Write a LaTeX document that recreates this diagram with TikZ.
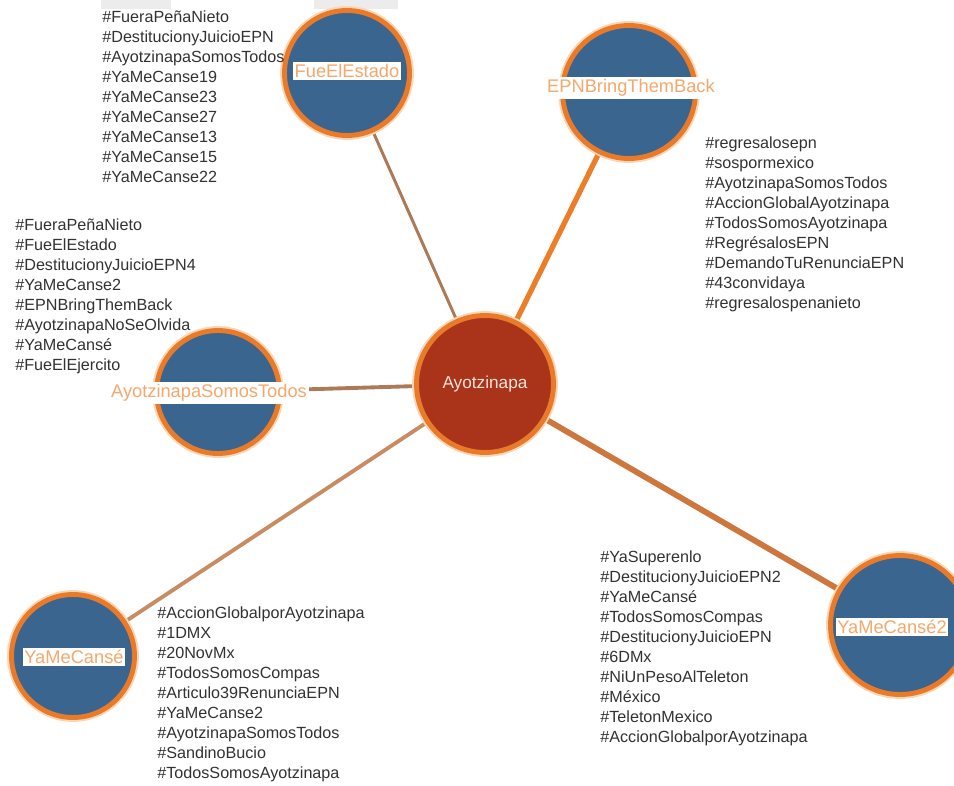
\documentclass[tikz,border=0pt]{standalone}
\usepackage{fontspec}
\setmainfont{Liberation Sans}
\usetikzlibrary{backgrounds}
\definecolor{ballblue}{RGB}{58,101,143}
\definecolor{ringorange}{RGB}{233,122,42}
\definecolor{ringglow}{RGB}{250,214,180}
\definecolor{hubred}{RGB}{170,52,26}
\definecolor{hubtext}{RGB}{250,228,220}
\definecolor{lblorange}{RGB}{244,168,108}
\definecolor{tagtext}{RGB}{50,50,50}
\definecolor{linkbrown}{RGB}{172,122,88}
\definecolor{linktan}{RGB}{200,140,98}
\definecolor{linkorange}{RGB}{236,126,42}
\definecolor{linkrust}{RGB}{205,118,62}
\definecolor{topgray}{RGB}{236,236,236}
\tikzset{
  ball/.style={circle, fill=ballblue, draw=ringorange, line width=2.8pt,
    preaction={draw=ringglow, line width=5pt}, inner sep=0pt},
  hub/.style={ball, fill=hubred, text=hubtext, font=\fontsize{9.8}{11}\selectfont},
  balllabel/.style={fill=white, text=lblorange, inner xsep=1pt, inner ysep=1.5pt,
    font=\fontsize{10.4}{12}\selectfont},
  tags/.style={anchor=north west, align=left, inner sep=0pt, text=tagtext,
    font=\fontsize{9.2}{11.4}\selectfont},
  link/.style={line width=#1, line cap=butt}}

\begin{document}
\begin{tikzpicture}[x=0.02cm, y=-0.02cm]
  \useasboundingbox (0,0) rectangle (954,785);
  \fill[topgray] (101,0) rectangle (171,9);
  \fill[topgray] (314,0) rectangle (398,9);

  % hub and hashtag balls
  \node[hub, minimum size=2.74cm] (hub) at (485,384) {Ayotzinapa};
  \node[ball, minimum size=2.5cm] (fue) at (347,73) {};
  \node[ball, minimum size=2.66cm] (epn) at (629,92) {};
  \node[ball, minimum size=2.46cm] (ast) at (218,392) {};
  \node[ball, minimum size=2.46cm] (yamc) at (73,656) {};
  \node[ball, minimum size=2.78cm] (yamc2) at (900,625) {};

  \node[balllabel] (fuelbl) at (347,71) {FueElEstado};
  \node[balllabel] (epnlbl) at (631,88) {EPNBringThemBack};
  \node[balllabel] (astlbl) at (209,393) {AyotzinapaSomosTodos};
  \node[balllabel] (yamclbl) at (74,657) {YaMeCansé};
  \node[balllabel] (yamc2lbl) at (892,627) {YaMeCansé2};

  \begin{scope}[on background layer]
    \draw[linkbrown, link=1.7pt] (hub) -- (fue);
    \draw[linkorange, link=3pt] (hub) -- (epn);
    \draw[linkbrown, link=2.2pt] (hub) -- (ast);
    \draw[linktan, link=2.2pt] (hub) -- (yamc);
    \draw[linkrust, link=3.3pt] (hub) -- (yamc2);
  \end{scope}

  \node[tags] (fuetags) at (102,10) {\#FueraPeñaNieto\\ \#DestitucionyJuicioEPN\\
    \#AyotzinapaSomosTodos\\ \#YaMeCanse19\\ \#YaMeCanse23\\ \#YaMeCanse27\\
    \#YaMeCanse13\\ \#YaMeCanse15\\ \#YaMeCanse22};
  \node[tags] (asttags) at (15,218) {\#FueraPeñaNieto\\ \#FueElEstado\\
    \#DestitucionyJuicioEPN4\\ \#YaMeCanse2\\ \#EPNBringThemBack\\
    \#AyotzinapaNoSeOlvida\\ \#YaMeCansé\\ \#FueElEjercito};
  \node[tags] (epntags) at (705,136) {\#regresalosepn\\ \#sospormexico\\
    \#AyotzinapaSomosTodos\\ \#AccionGlobalAyotzinapa\\ \#TodosSomosAyotzinapa\\
    \#RegrésalosEPN\\ \#DemandoTuRenunciaEPN\\ \#43convidaya\\ \#regresalospenanieto};
  \node[tags] (yamctags) at (157,606) {\#AccionGlobalporAyotzinapa\\ \#1DMX\\
    \#20NovMx\\ \#TodosSomosCompas\\ \#Articulo39RenunciaEPN\\ \#YaMeCanse2\\
    \#AyotzinapaSomosTodos\\ \#SandinoBucio\\ \#TodosSomosAyotzinapa};
  \node[tags] (yamc2tags) at (600,550) {\#YaSuperenlo\\ \#DestitucionyJuicioEPN2\\
    \#YaMeCansé\\ \#TodosSomosCompas\\ \#DestitucionyJuicioEPN\\ \#6DMx\\
    \#NiUnPesoAlTeleton\\ \#México\\ \#TeletonMexico\\ \#AccionGlobalporAyotzinapa};
\end{tikzpicture}
\end{document}
